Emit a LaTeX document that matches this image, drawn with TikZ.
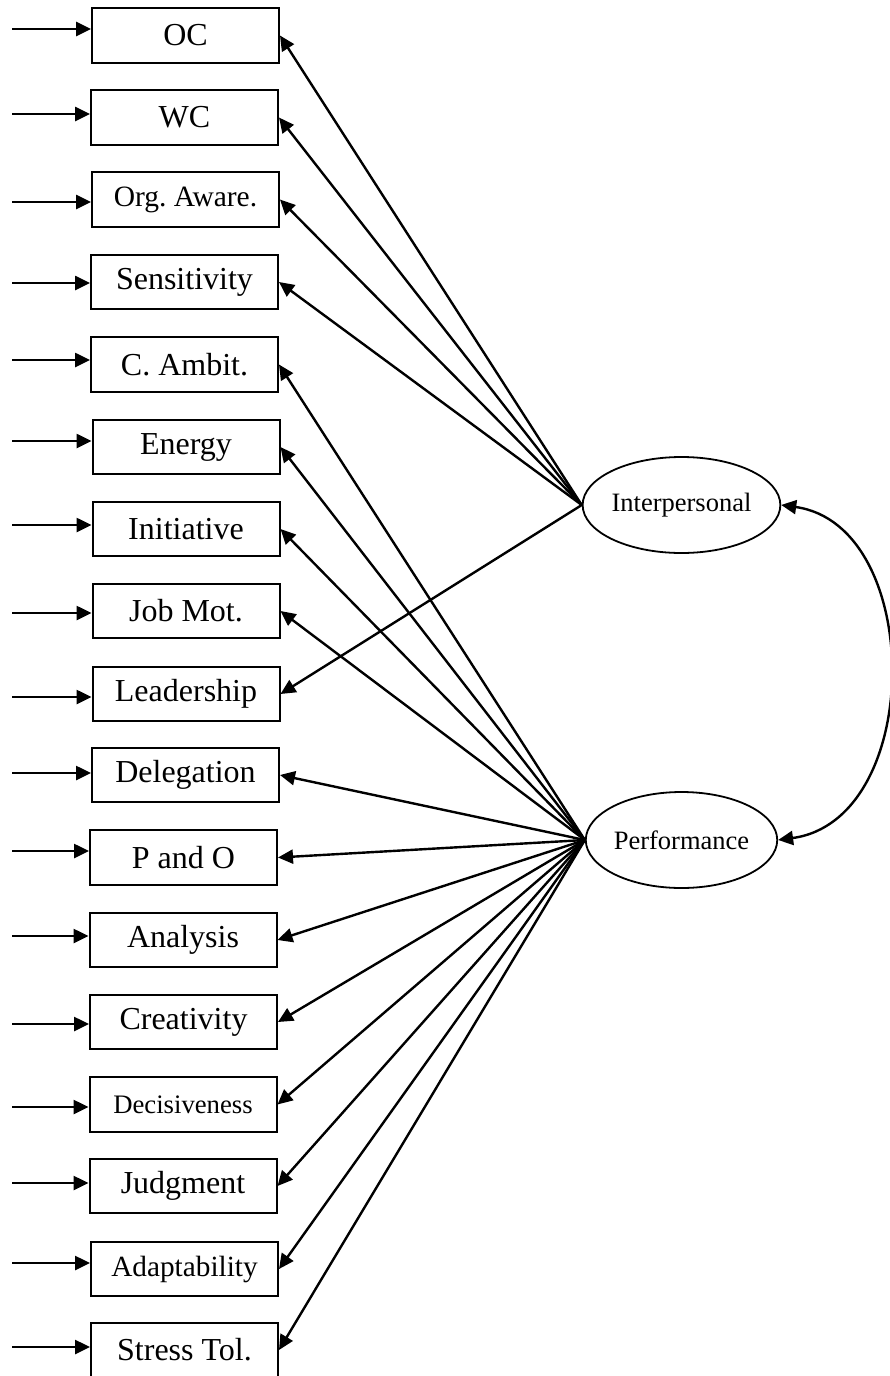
\documentclass[tikz,border=0pt]{standalone}
\usepackage{fontspec}
\setmainfont{Liberation Serif}
\usetikzlibrary{arrows.meta,shapes.geometric}
\frenchspacing
\begin{document}
\begin{tikzpicture}[x=1pt,y=-1pt,
  obs/.style={draw,line width=2pt,minimum width=187pt,minimum height=54.5pt,inner sep=0pt},
  lat/.style={draw,ellipse,line width=1.8pt,minimum width=186pt,minimum height=96pt,inner sep=0pt,font=\fontsize{26.5}{30}\selectfont},
  tip/.tip={Triangle[length=15pt,width=14pt]},
  err/.style={line width=2.6pt,-tip},
  load/.style={line width=2.4pt,-tip},
  cov/.style={line width=2.4pt,tip-tip},
]
\useasboundingbox (0,0) rectangle (890,1376);

% observed indicators: name / centre x / centre y / error arrow y / font size / label
\foreach \n/\cx/\cy/\ay/\fs/\t in {
  OC/185.5/35.5/29/32/OC,
  WC/184.5/117.5/114/32/WC,
  OA/185.5/199.5/202/29.5/Org. Aware.,
  Sens/184.5/282/283/32/Sensitivity,
  CA/184.5/364.5/360/32/C. Ambit.,
  En/186/447/441/32/Energy,
  In/186/529/525/32/Initiative,
  JM/186/611/613/32/Job Mot.,
  Le/186/694/697/32/Leadership,
  De/185.5/775/773/32/Delegation,
  PO/183.5/857.5/851/32/P and O,
  An/183/940/936/32/Analysis,
  Cr/183.5/1022/1024/32/Creativity,
  Dc/183/1104.5/1107/26.7/Decisiveness,
  Ju/183/1186/1183/32/Judgment,
  Ad/184.5/1269/1263/29.3/Adaptability,
  ST/184.5/1350/1347/32/Stress Tol.}{
  \node[obs,font=\fontsize{\fs}{\fs}\selectfont] (\n) at (\cx,\cy) {\t};
  \coordinate (e\n) at (12,\ay);
  \draw[err] (e\n) -- (e\n -| \n.west);
}

% latent factors
\node[lat] (I) at (681.5,505) {Interpersonal};
\node[lat] (P) at (681.5,840) {Performance};

% factor loadings
\foreach \b in {OC,WC,OA,Sens,Le}
  \draw[load] (I.west) -- (\b.east);
\foreach \b in {CA,En,In,JM,De,PO,An,Cr,Dc,Ju,Ad,ST}
  \draw[load] (P.west) -- (\b.east);

% factor covariance
\draw[cov] (I.east) .. controls (925,525) and (925,820) .. (P.east);
\end{tikzpicture}
\end{document}
